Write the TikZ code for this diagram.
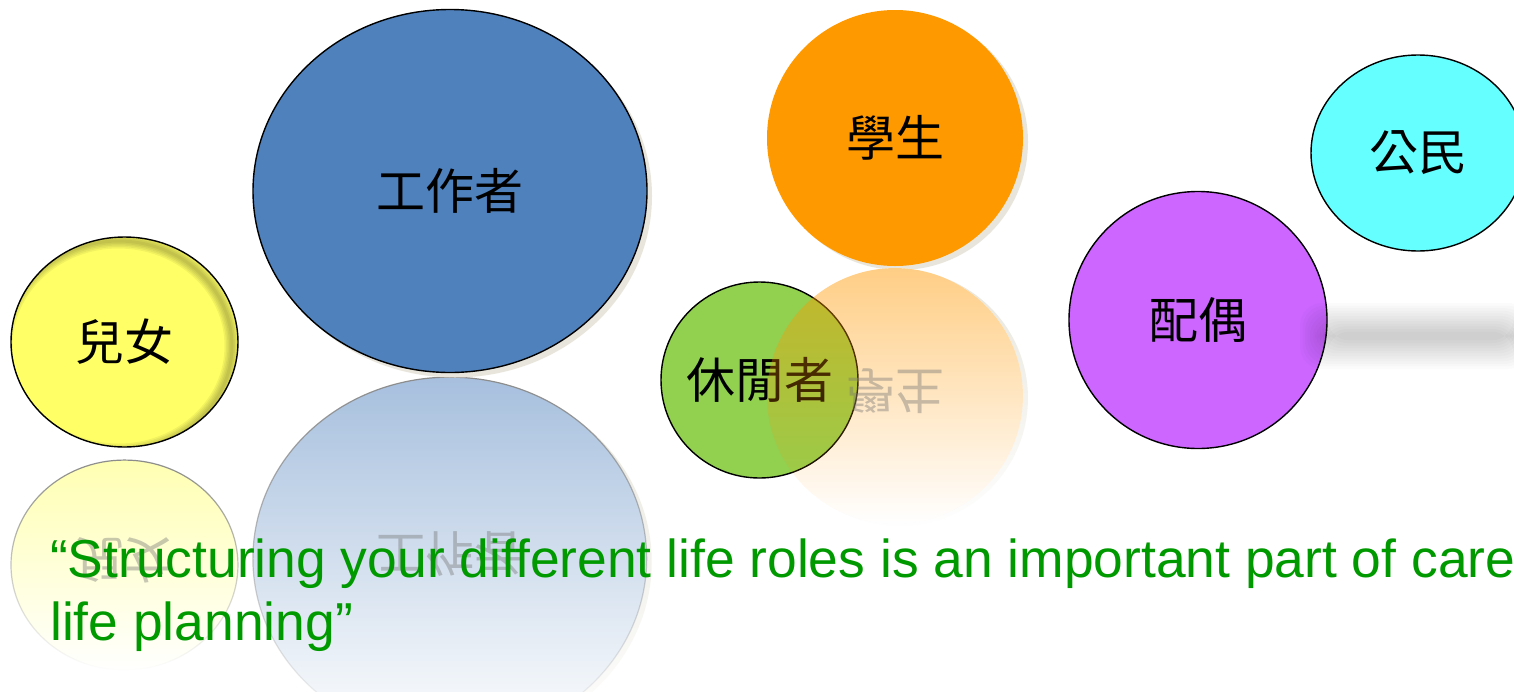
\documentclass[tikz,border=0pt]{standalone}
\usepackage{fontspec}
\setmainfont{Liberation Sans}
\newfontfamily\cjk{Noto Sans CJK TC}
\usetikzlibrary{fadings,shapes.geometric}
\definecolor{cYellow}{HTML}{FFFF66}
\definecolor{cBlue}{HTML}{4F81BD}
\definecolor{cOrange}{HTML}{FF9900}
\definecolor{cGreen}{HTML}{92D050}
\definecolor{cPurple}{HTML}{CC66FF}
\definecolor{cCyan}{HTML}{66FFFF}
\definecolor{cQuote}{HTML}{009900}
\definecolor{cShadow}{HTML}{E8E6DC}
\tikzfading[name=reflfade, top color=transparent!0, bottom color=transparent!100]
\begin{document}
\begin{tikzpicture}[x=1pt,y=-1pt,
  role/.style={ellipse, inner sep=0pt, font=\cjk\fontsize{49}{49}\selectfont, text=black},
  ring/.style={draw=black, line width=1.4pt},
  mirror/.style={font=\cjk\fontsize{49}{49}\selectfont, text=black!55, text opacity=0.4},
  refl/.style={path fading=reflfade, fit fading=true},
  quote/.style={anchor=base west, inner sep=0pt, font=\fontsize{53.4}{63}\selectfont, text=cQuote},
]
\clip (0,0) rectangle (1514,691);
\fill[white] (0,0) rectangle (1514,691);

% ---- reflections (behind) ----
\fill[cShadow, refl] (455,562) ellipse [x radius=197, y radius=181.5];
\fill[white] (450,558.5) ellipse [x radius=197, y radius=181.5];
\path[fill=cBlue, fill opacity=0.5, draw=black!45, line width=1.2pt, refl] (450,558.5) ellipse [x radius=197, y radius=181.5];
\node[mirror] (workerR) at (450,554) {\scalebox{1}[-1]{工作者}};

\path[fill=cYellow, fill opacity=0.5, draw=black!45, line width=1.2pt, refl] (124.5,565) ellipse [x radius=113.5, y radius=105];
\node[mirror] (kidsR) at (124.5,560) {\scalebox{1}[-1]{兒女}};

% ---- blue worker circle ----
\fill[cShadow] (455,196) ellipse [x radius=197, y radius=181.5];
\node[role, fill=cBlue, ring, minimum width=394pt, minimum height=363pt] (worker) at (450,191) {\makebox[0pt]{工作者}};

% ---- yellow children circle with inner shadow ----
\node[role, fill=cYellow, minimum width=227pt, minimum height=210pt] (kids) at (124.5,342) {\makebox[0pt]{兒女}};
\begin{scope}
  \clip (124.5,342) ellipse [x radius=113.5, y radius=105];
  \foreach \w in {3,6,9,12,15}
    \draw[black, opacity=0.05, line width=\w pt] (118.5,346) ellipse [x radius=113.5, y radius=105];
\end{scope}
\draw[ring] (kids.center) ellipse [x radius=113.5, y radius=105];

% ---- orange student circle ----
\fill[cShadow] (900,142) ellipse [x radius=128, y radius=128];
\node[role, fill=cOrange, minimum width=256pt, minimum height=256pt] (student) at (895,138) {\makebox[0pt]{學生}};
\fill[cShadow, refl] (900,398) ellipse [x radius=128, y radius=128];
\fill[white] (895,396) ellipse [x radius=128, y radius=128];

% ---- green leisure circle ----
\node[role, fill=cGreen, ring, minimum width=197pt, minimum height=196pt] (leisure) at (759.5,380) {\makebox[0pt]{休閒者}};

% orange reflection over the green circle
\path[fill=cOrange, fill opacity=0.48, refl] (895,396) ellipse [x radius=128, y radius=128];
\node[mirror] (studentR) at (895,391) {\scalebox{1}[-1]{學生}};

% ---- spouse and citizen ----
\node[role, fill=cPurple, ring, minimum width=258pt, minimum height=257pt] (spouse) at (1198,320) {\makebox[0pt]{配偶}};
\node[role, fill=cCyan, ring, minimum width=214pt, minimum height=196pt] (citizen) at (1418,153) {\makebox[0pt]{公民}};

% soft grey shadow right of the spouse circle
\foreach \i in {0,...,11}
  \fill[black, opacity=0.014, rounded corners=22pt] (1300+\i*2.5,303+\i*2.6) rectangle (1530-\i*1.5,369-\i*2.6);

% ---- quote ----
\node[quote] (quoteA) at (50,577) {“Structuring your different life roles is an important part of care};
\node[quote] (quoteB) at (50,640) {life planning”};
\end{tikzpicture}
\end{document}
